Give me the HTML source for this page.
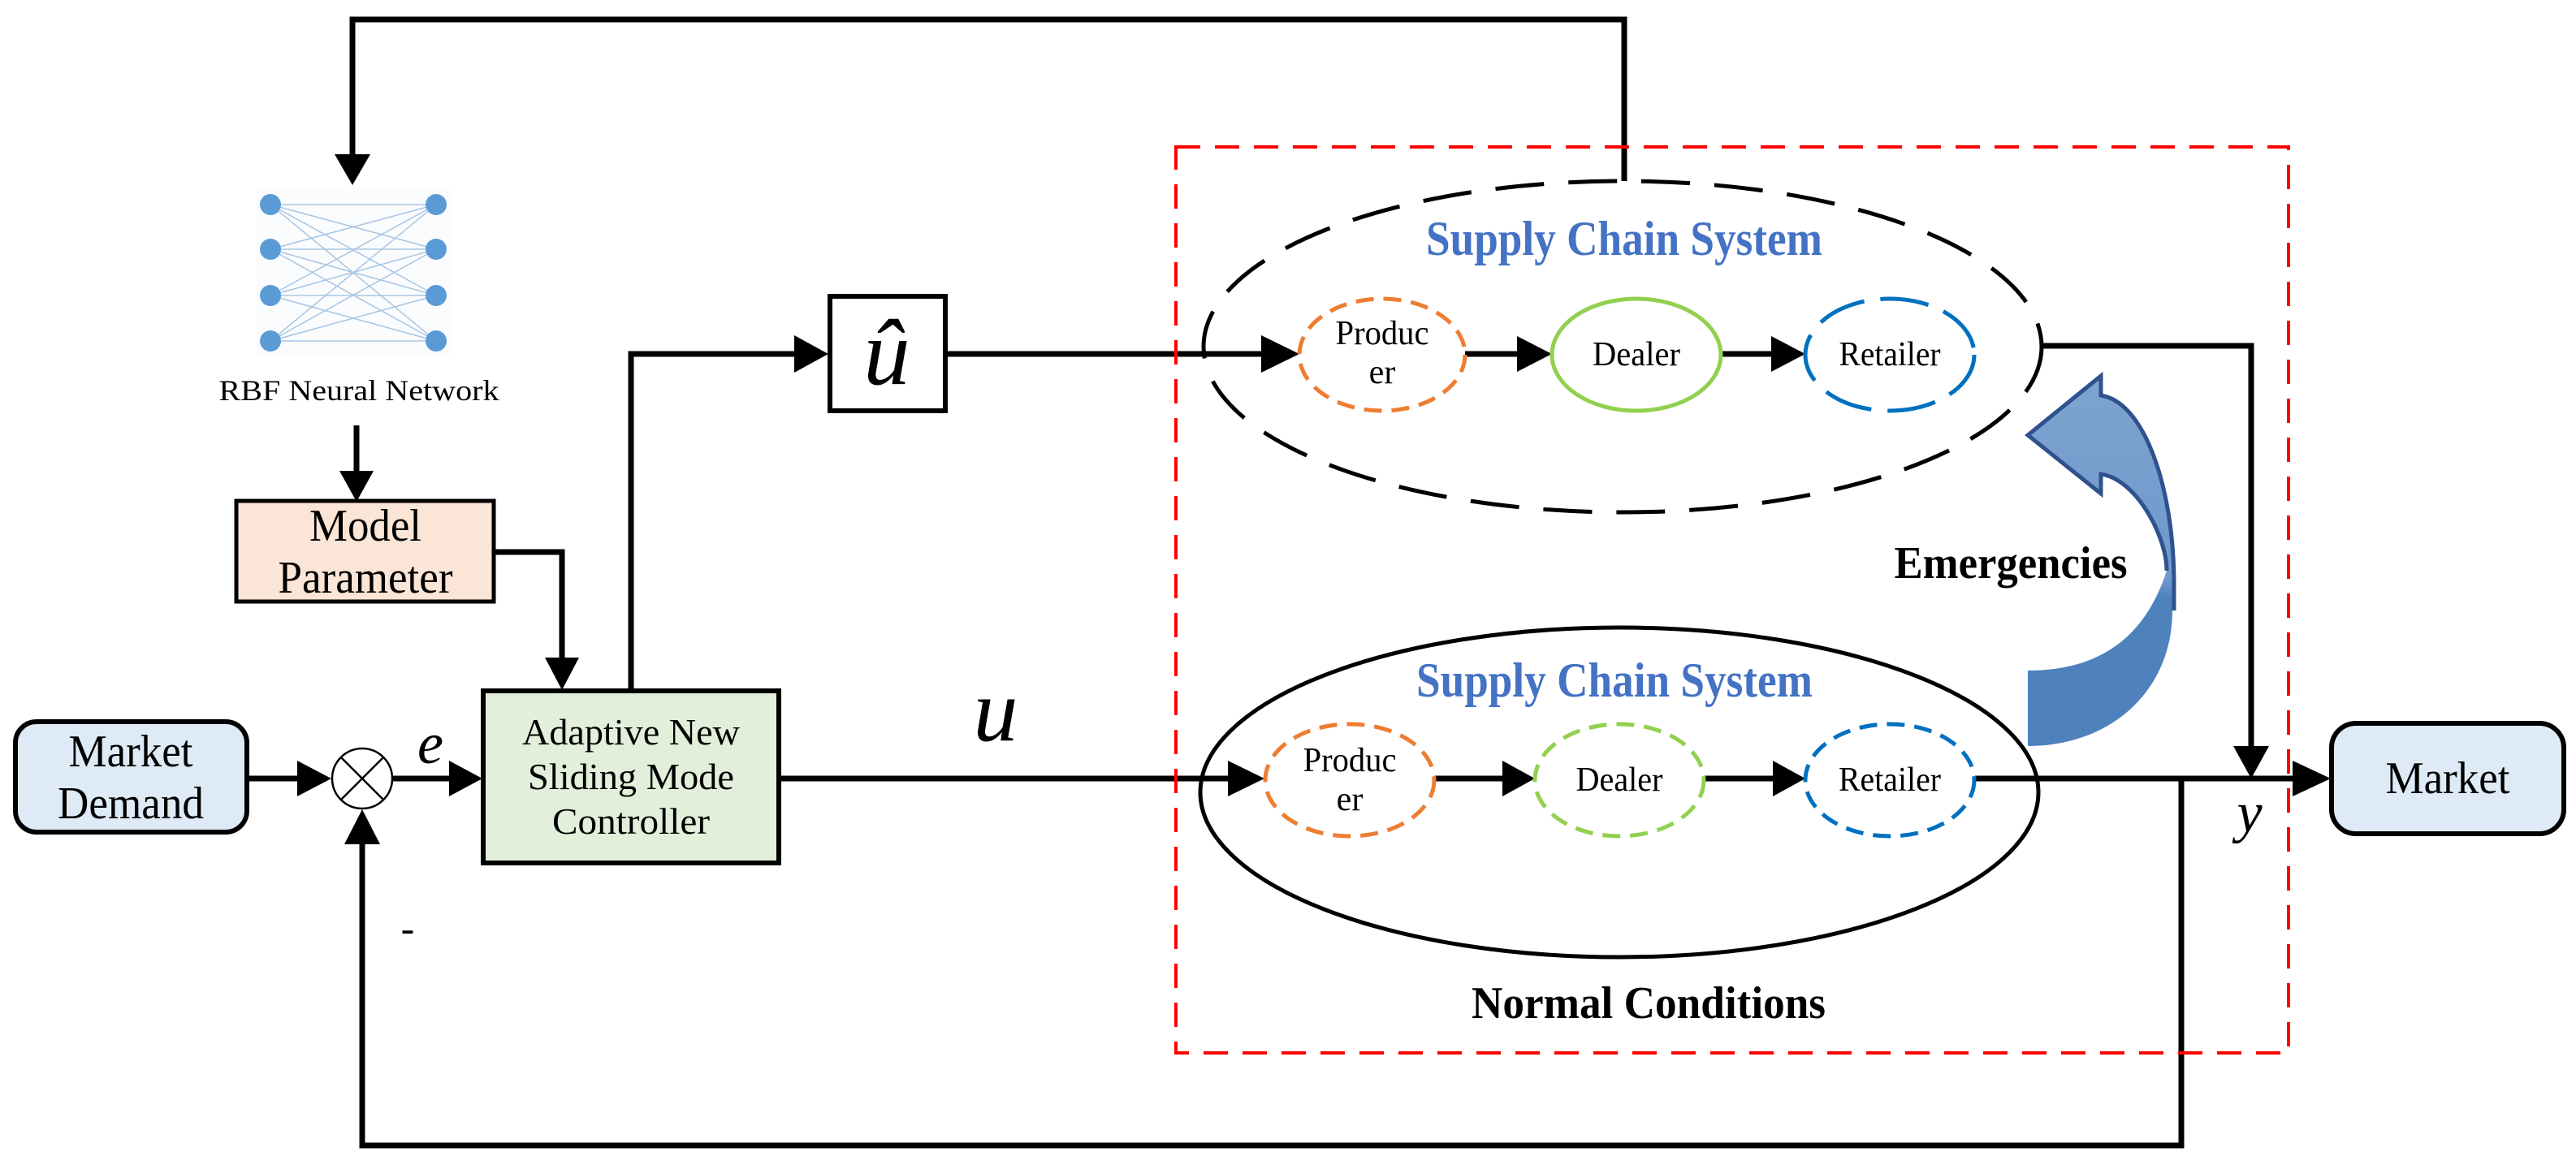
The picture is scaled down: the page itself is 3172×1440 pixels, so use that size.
<!DOCTYPE html>
<html><head><meta charset="utf-8"><style>
html,body{margin:0;padding:0;background:#fff;}
svg{display:block;}
svg text{font-family:"Liberation Serif","Times New Roman",Times,"DejaVu Serif","Noto Serif CJK SC",serif;}
</style></head><body>
<svg width="3172" height="1440" viewBox="0 0 3172 1440" xmlns="http://www.w3.org/2000/svg">
<defs>
<linearGradient id="bg" x1="0" y1="0" x2="0" y2="1">
<stop offset="0" stop-color="#7ea3cf"/><stop offset="0.55" stop-color="#6f98cb"/><stop offset="0.6" stop-color="#4f81bd"/><stop offset="1" stop-color="#4f81bd"/>
</linearGradient>
</defs>
<g stroke="#000" stroke-width="7" fill="none">
<polyline points="2000,223 2000,24 434,24 434,195"/>
<line x1="439" y1="524" x2="439" y2="585"/>
<polyline points="608,680 692,680 692,815"/>
<polyline points="777,850 777,436 985,436"/>
<line x1="1166" y1="436" x2="1560" y2="436"/>
<line x1="304" y1="959" x2="370" y2="959"/>
<line x1="484" y1="959" x2="560" y2="959"/>
<line x1="959" y1="959" x2="1520" y2="959"/>
<line x1="1767" y1="959" x2="1855" y2="959"/>
<line x1="2099" y1="959" x2="2188" y2="959"/>
<line x1="2432" y1="959" x2="2825" y2="959"/>
<line x1="1804" y1="436" x2="1876" y2="436"/>
<line x1="2119" y1="436" x2="2188" y2="436"/>
<polyline points="2513,426 2772,426 2772,920"/>
<polyline points="2686,959 2686,1411 446,1411 446,1033"/>
</g>
<g fill="#000">
<polygon points="412,190 456,190 434,228"/>
<polygon points="418,580 460,580 439,618"/>
<polygon points="671,810 713,810 692,850"/>
<polygon points="978,413 978,459 1020,436"/>
<polygon points="1553,413 1553,459 1600,436"/>
<polygon points="366,937 366,981 408,959"/>
<polygon points="553,937 553,981 594,959"/>
<polygon points="1512,937 1512,981 1557,959"/>
<polygon points="1850,937 1850,981 1890,959"/>
<polygon points="2183,937 2183,981 2223,959"/>
<polygon points="1868,414 1868,458 1911,436"/>
<polygon points="2181,414 2181,458 2223,436"/>
<polygon points="2823,937 2823,981 2870,959"/>
<polygon points="2750,919 2794,919 2772,959"/>
<polygon points="424,1040 468,1040 446,997"/>
</g>
<rect x="1448" y="181" width="1370" height="1116" fill="none" stroke="#ff0000" stroke-width="4" stroke-dasharray="30,18"/>
<rect x="316" y="232" width="238" height="208" fill="#fafcfe"/>
<g stroke="#a9c6e2" stroke-width="1.5">
<line x1="333" y1="252" x2="537" y2="252"/><line x1="333" y1="252" x2="537" y2="307"/><line x1="333" y1="252" x2="537" y2="364"/><line x1="333" y1="252" x2="537" y2="420"/>
<line x1="333" y1="307" x2="537" y2="252"/><line x1="333" y1="307" x2="537" y2="307"/><line x1="333" y1="307" x2="537" y2="364"/><line x1="333" y1="307" x2="537" y2="420"/>
<line x1="333" y1="364" x2="537" y2="252"/><line x1="333" y1="364" x2="537" y2="307"/><line x1="333" y1="364" x2="537" y2="364"/><line x1="333" y1="364" x2="537" y2="420"/>
<line x1="333" y1="420" x2="537" y2="252"/><line x1="333" y1="420" x2="537" y2="307"/><line x1="333" y1="420" x2="537" y2="364"/><line x1="333" y1="420" x2="537" y2="420"/>
</g>
<g fill="#5b9bd5">
<circle cx="333" cy="252" r="13"/><circle cx="333" cy="307" r="13"/><circle cx="333" cy="364" r="13"/><circle cx="333" cy="420" r="13"/>
<circle cx="537" cy="252" r="13"/><circle cx="537" cy="307" r="13"/><circle cx="537" cy="364" r="13"/><circle cx="537" cy="420" r="13"/>
</g>
<text x="442" y="493" font-size="36" text-anchor="middle" textLength="345" lengthAdjust="spacingAndGlyphs">RBF Neural Network</text>
<rect x="291" y="617" width="317" height="124" fill="#fbe5d6" stroke="#000" stroke-width="5"/>
<text x="450" y="666" font-size="56" text-anchor="middle" textLength="138" lengthAdjust="spacingAndGlyphs">Model</text>
<text x="450" y="730" font-size="56" text-anchor="middle" textLength="215" lengthAdjust="spacingAndGlyphs">Parameter</text>
<rect x="595" y="851" width="364" height="212" fill="#e2efda" stroke="#000" stroke-width="6"/>
<text x="777" y="917" font-size="46" text-anchor="middle" textLength="268" lengthAdjust="spacingAndGlyphs">Adaptive New</text>
<text x="777" y="972" font-size="46" text-anchor="middle" textLength="254" lengthAdjust="spacingAndGlyphs">Sliding Mode</text>
<text x="777" y="1027" font-size="46" text-anchor="middle" textLength="194" lengthAdjust="spacingAndGlyphs">Controller</text>
<rect x="19" y="889" width="285" height="136" rx="26" fill="#deebf7" stroke="#000" stroke-width="6"/>
<text x="161" y="944" font-size="56" text-anchor="middle" textLength="153" lengthAdjust="spacingAndGlyphs">Market</text>
<text x="161" y="1008" font-size="56" text-anchor="middle" textLength="180" lengthAdjust="spacingAndGlyphs">Demand</text>
<circle cx="446" cy="959" r="37" fill="#fff" stroke="#000" stroke-width="2.5"/>
<line x1="420" y1="933" x2="472" y2="985" stroke="#000" stroke-width="2.5"/>
<line x1="472" y1="933" x2="420" y2="985" stroke="#000" stroke-width="2.5"/>
<text x="530" y="940" font-size="72" font-style="italic" text-anchor="middle">e</text>
<text x="502" y="1160" font-size="50" text-anchor="middle">-</text>
<text x="1226" y="912" font-size="110" font-style="italic" text-anchor="middle">u</text>
<rect x="1022" y="365" width="142" height="141" fill="#fff" stroke="#000" stroke-width="6"/>
<text x="1092" y="473" font-size="115" font-style="italic" text-anchor="middle">û</text>
<ellipse cx="1998" cy="427" rx="516" ry="204" fill="none" stroke="#000" stroke-width="5" stroke-dasharray="60,30"/>
<text x="2000" y="314" font-size="60" font-weight="bold" fill="#4472c4" text-anchor="middle" textLength="488" lengthAdjust="spacingAndGlyphs">Supply Chain System</text>
<ellipse cx="1702" cy="437" rx="102" ry="69" fill="#fff" stroke="#ed7d31" stroke-width="5" stroke-dasharray="22,12"/>
<ellipse cx="2015" cy="437" rx="104" ry="69" fill="#fff" stroke="#92d050" stroke-width="5"/>
<ellipse cx="2327" cy="437" rx="104" ry="69" fill="#fff" stroke="#0070c0" stroke-width="5" stroke-dasharray="60,20"/>
<text x="1702" y="424" font-size="42" text-anchor="middle" textLength="115" lengthAdjust="spacingAndGlyphs">Produc</text>
<text x="1702" y="472" font-size="42" text-anchor="middle">er</text>
<text x="2015" y="450" font-size="42" text-anchor="middle" textLength="108" lengthAdjust="spacingAndGlyphs">Dealer</text>
<text x="2327" y="450" font-size="42" text-anchor="middle" textLength="125" lengthAdjust="spacingAndGlyphs">Retailer</text>
<ellipse cx="1994" cy="976" rx="516" ry="203" fill="none" stroke="#000" stroke-width="5"/>
<text x="1988" y="858" font-size="60" font-weight="bold" fill="#4472c4" text-anchor="middle" textLength="488" lengthAdjust="spacingAndGlyphs">Supply Chain System</text>
<ellipse cx="1662" cy="961" rx="104" ry="69" fill="#fff" stroke="#ed7d31" stroke-width="5" stroke-dasharray="22,12"/>
<ellipse cx="1994" cy="961" rx="104" ry="69" fill="#fff" stroke="#92d050" stroke-width="5" stroke-dasharray="22,12"/>
<ellipse cx="2327" cy="961" rx="104" ry="69" fill="#fff" stroke="#0070c0" stroke-width="5" stroke-dasharray="22,12"/>
<text x="1662" y="950" font-size="42" text-anchor="middle" textLength="115" lengthAdjust="spacingAndGlyphs">Produc</text>
<text x="1662" y="998" font-size="42" text-anchor="middle">er</text>
<text x="1994" y="974" font-size="42" text-anchor="middle" textLength="107" lengthAdjust="spacingAndGlyphs">Dealer</text>
<text x="2327" y="974" font-size="42" text-anchor="middle" textLength="126" lengthAdjust="spacingAndGlyphs">Retailer</text>
<text x="2476" y="712" font-size="56" font-weight="bold" text-anchor="middle" textLength="287" lengthAdjust="spacingAndGlyphs">Emergencies</text>
<text x="2030" y="1254" font-size="56" font-weight="bold" text-anchor="middle" textLength="436" lengthAdjust="spacingAndGlyphs">Normal Conditions</text>
<text x="2770" y="1024" font-size="70" font-style="italic" text-anchor="middle">y</text>
<rect x="2871" y="891" width="286" height="136" rx="30" fill="#deebf7" stroke="#000" stroke-width="6"/>
<text x="3014" y="977" font-size="56" text-anchor="middle" textLength="153" lengthAdjust="spacingAndGlyphs">Market</text>
<path d="M2497,919 C2600,919 2675,850 2675,752 L2677,720 C2677,600 2640,495 2587,487 L2587,463 L2497,536 L2587,608 L2587,584 C2630,590 2668,660 2668,703 C2640,790 2580,826 2497,826 Z" fill="url(#bg)"/>
<path d="M2677,752 L2677,720 C2677,600 2640,495 2587,487 L2587,463 L2497,536 L2587,608 L2587,584 C2630,590 2668,660 2668,703" fill="none" stroke="#2f528f" stroke-width="5"/>
</svg>
</body></html>
